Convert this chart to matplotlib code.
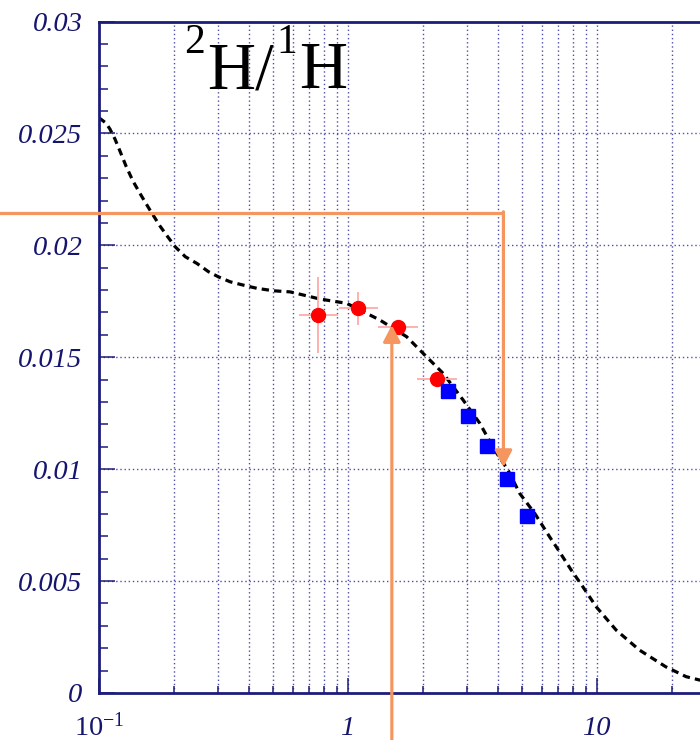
import numpy as np
import matplotlib
matplotlib.use('Agg')
import matplotlib.pyplot as plt
from matplotlib.ticker import FixedLocator, NullFormatter

# ---------------- data ----------------
curve_x = [0.1, 0.1067, 0.1107, 0.1159, 0.1214, 0.1284, 0.1369, 0.1475, 0.1603,
           0.1758, 0.1892, 0.2025, 0.2222, 0.2474, 0.2754, 0.3020, 0.3365,
           0.3805, 0.4306, 0.5019, 0.5854, 0.6617, 0.7722, 0.9009, 0.988,
           1.344, 1.719, 2.068, 2.165, 2.41, 2.899, 3.382, 3.883, 4.391,
           4.891, 5.618, 6.450, 6.863, 7.882, 8.77, 9.93, 11.94, 14.8, 18.9,
           22.8, 25.8, 30.0]
curve_y = [0.0257, 0.02546, 0.02519, 0.02475, 0.02421, 0.02354, 0.02287, 0.02224,
           0.02157, 0.02086, 0.02037, 0.01993, 0.01949, 0.01919, 0.01882,
           0.01859, 0.01837, 0.01822, 0.01808, 0.01797, 0.01792, 0.01778,
           0.01760, 0.01748, 0.01741, 0.01666, 0.01592, 0.01502, 0.01480,
           0.01428, 0.01309, 0.01205, 0.01085, 0.00996, 0.00892, 0.00803,
           0.00698, 0.00653, 0.00549, 0.00475, 0.00385, 0.00281, 0.00192,
           0.00117, 0.00073, 0.00058, 0.00050]

red_x = [0.76, 1.10, 1.59, 2.28]
red_y = [0.01688, 0.01718, 0.01636, 0.01401]
red_yerr = [0.0017, 0.00075, 0.0003, 0.0002]
red_xfactor = 1.2

blue_x = [2.51, 3.02, 3.63, 4.35, 5.23]
blue_y = [0.01349, 0.01237, 0.01103, 0.00955, 0.00791]
blue_xfactor = 1.04

y_ticks = [0, 0.005, 0.01, 0.015, 0.02, 0.025, 0.03]
y_labels = ['0', '0.005', '0.01', '0.015', '0.02', '0.025', '0.03']
x_ticks = [0.1, 1, 10]
x_labels = [r'$\mathit{10^{-1}}$', '1', '10']
x_minor = [0.2, 0.3, 0.4, 0.5, 0.6, 0.7, 0.8, 0.9,
           2, 3, 4, 5, 6, 7, 8, 9, 20, 30]
y_minor = [0.001 * i for i in range(31)]

# title pieces: (text, x_px, baseline_px, size)
title_parts = [('2', 184, 53, 30), ('H/', 207, 88, 48), ('1', 276, 53, 30), ('H', 299, 88, 48)]

# annotation (orange guide lines)
guide_h_y = 0.02144
guide_h_x0 = 0.03
guide_down_x = 4.21
guide_down_tip = 0.01009
guide_up_x = 1.50
guide_up_tail = -0.004
guide_up_tip = 0.01644

# ---------------- style ----------------
plt.rcParams['mathtext.fontset'] = 'custom'
plt.rcParams['mathtext.rm'] = 'Liberation Serif'
plt.rcParams['mathtext.it'] = 'Liberation Serif:italic'
plt.rcParams['font.family'] = ['Liberation Serif', 'DejaVu Serif']

navy = '#1c1c7a'
label_col = '#15156e'
grid_col = '#4e4ea6'
orange = '#f5955f'
lab_size = 20.5

fig = plt.figure(figsize=(7.0, 7.4), dpi=100)
ax = fig.add_axes([99 / 700, 47 / 740, 2.4771 * 249 / 700, 671.5 / 740])
ax.set_xscale('log')
ax.set_xlim(0.1, 30)
ax.set_ylim(0, 0.03)

for side in ['left', 'bottom', 'top', 'right']:
    ax.spines[side].set_color(navy)
    ax.spines[side].set_linewidth(2.0)

ax.set_xticks(x_ticks)
ax.set_xticklabels(x_labels, fontsize=lab_size, style='italic', color=label_col,
                   va='baseline')
ax.xaxis.set_minor_locator(FixedLocator(x_minor))
ax.xaxis.set_minor_formatter(NullFormatter())
ax.set_yticks(y_ticks)
ax.set_yticklabels(y_labels, fontsize=lab_size, style='italic', color=label_col)
ax.yaxis.set_minor_locator(FixedLocator(y_minor))
ax.yaxis.set_minor_formatter(NullFormatter())

ax.tick_params(axis='both', which='both', direction='in', color=navy,
               width=1.1, top=False, right=False)
ax.tick_params(axis='y', which='major', length=11.5, pad=12)
ax.tick_params(axis='y', which='minor', length=6.5)
ax.tick_params(axis='x', which='major', length=11, pad=30.5)
ax.tick_params(axis='x', which='minor', length=5)

# grid
for xv in x_minor + x_ticks[1:]:
    ax.axvline(xv, color=grid_col, lw=1.0, ls=(0, (1, 2)), zorder=0.5)
for yv in y_ticks[1:]:
    ax.axhline(yv, color=grid_col, lw=1.0, ls=(0, (1, 2)), zorder=0.5)

# theory curve
ax.plot(curve_x, curve_y, color='black', lw=2.3, ls=(0, (2.3, 1.6)), zorder=2)

# red data
rx = np.array(red_x)
ax.errorbar(red_x, red_y, yerr=red_yerr,
            xerr=[rx - rx / red_xfactor, rx * red_xfactor - rx],
            fmt='none', ecolor='#ffaaaa', elinewidth=1.3, capsize=0, zorder=3)
ax.plot(red_x, red_y, 'o', color='#ff0000', ms=10, mec='#ff0000', zorder=4)

# blue data
bx = np.array(blue_x)
ax.errorbar(blue_x, blue_y,
            xerr=[bx - bx / blue_xfactor, bx * blue_xfactor - bx],
            fmt='none', ecolor='#8080ff', elinewidth=1.0, capsize=0, zorder=3)
ax.plot(blue_x, blue_y, 's', color='#0000ff', ms=9.8, mec='#0000ff', zorder=4)

# title
for txt, xp, yp, sz in title_parts:
    fig.text(xp / 700, 1 - yp / 740, txt, fontsize=sz, color='black',
             ha='left', va='baseline', style='normal')

# orange guide lines
ax.plot([guide_h_x0, guide_down_x], [guide_h_y, guide_h_y], color=orange,
        lw=2.3, clip_on=False, zorder=5, solid_capstyle='butt')
ax.annotate('', xy=(guide_down_x, guide_down_tip), xytext=(guide_down_x, guide_h_y + 0.00006),
            arrowprops=dict(arrowstyle='-|>,head_length=10,head_width=5.2',
                            color=orange, lw=2.3, shrinkA=0, shrinkB=0,
                            mutation_scale=1),
            annotation_clip=False, zorder=5)
ax.annotate('', xy=(guide_up_x, guide_up_tip), xytext=(guide_up_x, guide_up_tail),
            arrowprops=dict(arrowstyle='-|>,head_length=10,head_width=5.2',
                            color=orange, lw=2.3, shrinkA=0, shrinkB=0,
                            mutation_scale=1),
            annotation_clip=False, zorder=5)

fig.savefig('out.png', dpi=100)
